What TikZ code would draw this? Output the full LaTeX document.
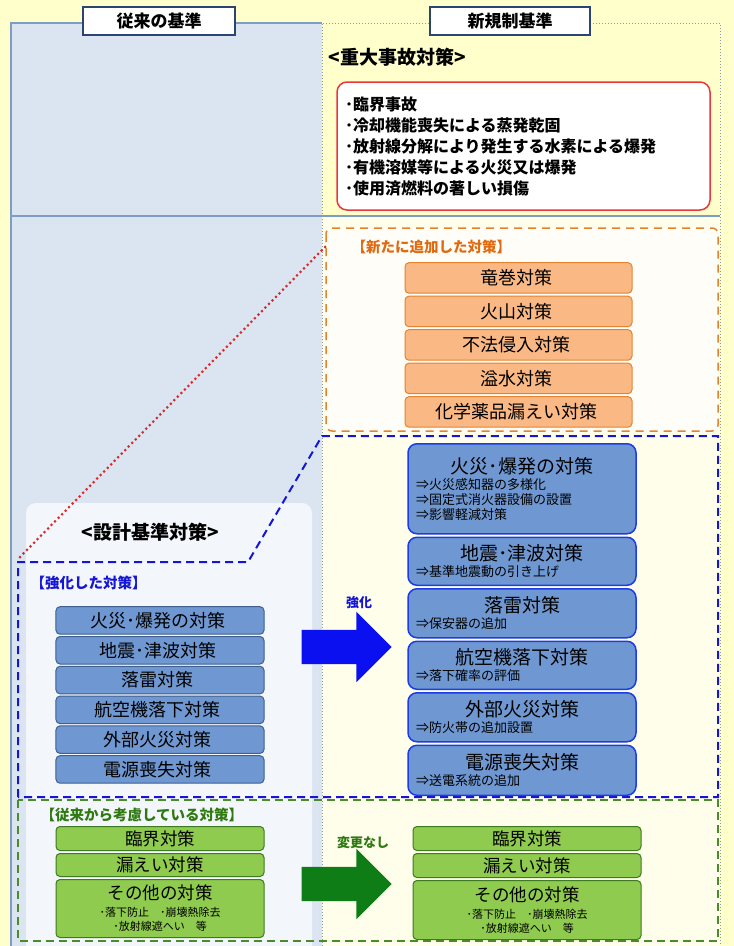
\documentclass[tikz,border=0pt]{standalone}
\usepackage{fontspec}
\setmainfont{Noto Sans CJK JP}
\usetikzlibrary{matrix,positioning,shapes.arrows}
\definecolor{pageyellow}{HTML}{FFFFCC}
\definecolor{oldpanel}{HTML}{DBE5F1}
\definecolor{oldframe}{HTML}{7F9DC3}
\definecolor{newframe}{HTML}{8C99A6}
\definecolor{lightpanel}{HTML}{F3F6FA}
\definecolor{creampanel}{HTML}{FFFEEA}
\definecolor{headline}{HTML}{2B4570}
\definecolor{saframe}{HTML}{E8383D}
\definecolor{orline}{HTML}{E3832F}
\definecolor{orfill}{HTML}{FAB884}
\definecolor{orpale}{HTML}{FFFDF7}
\definecolor{ortext}{HTML}{E06A10}
\definecolor{dashblue}{HTML}{1515D5}
\definecolor{bluefill}{HTML}{6F98D2}
\definecolor{blueedge}{HTML}{3F5F8E}
\definecolor{brightedge}{HTML}{1C3CE6}
\definecolor{arrowblue}{HTML}{0A10F0}
\definecolor{greenline}{HTML}{4B8B2E}
\definecolor{greenfill}{HTML}{8FCB4E}
\definecolor{greenedge}{HTML}{3D7A22}
\definecolor{arrowgreen}{HTML}{0E7D16}
\definecolor{greentext}{HTML}{2E7A10}
\definecolor{dotred}{HTML}{D82A2A}
\newcommand{\jpsize}[2]{\fontsize{#1}{#2}\selectfont}
\tikzset{
stdhead/.style={
  draw=headline,
  line width=1.5pt,
  fill=white,
  minimum height=28pt,
  font=\bfseries\jpsize{17}{20}
  },
grouptitle/.style={
  anchor=west,
  text=#1,
  font=\bfseries\jpsize{14.5}{17}
  },
boxstack/.style={
  matrix of nodes,
  inner sep=0pt,
  row sep=1.5pt,
  nodes={rounded corners=4pt,line width=1pt,align=center,inner sep=0pt}
  },
orangemat/.style={
  boxstack,
  row sep=2pt,
  nodes={draw=orline,fill=orfill,minimum width=227pt,minimum height=30.5pt,font=\jpsize{18}{20}}
  },
bluemat/.style={
  boxstack,
  row sep=1.3pt,
  nodes={draw=blueedge,fill=bluefill,minimum width=208pt,minimum height=27.5pt,font=\jpsize{18}{20}}
  },
newblue/.style={
  draw=brightedge,
  line width=1.5pt,
  fill=bluefill,
  rounded corners=9pt,
  minimum width=228pt,
  text width=212pt,
  align=left,
  inner xsep=8pt,
  inner ysep=2pt,
  font=\jpsize{13}{15}
  },
greenbox/.style={
  draw=greenedge,
  line width=1pt,
  fill=greenfill,
  rounded corners=4pt,
  minimum width=#1,
  align=center,
  inner sep=0pt,
  font=\jpsize{17.5}{20}
  },
bigarrow/.style={
  single arrow,
  fill=#1,
  draw=none,
  minimum height=90pt,
  minimum width=0pt,
  inner xsep=0pt,
  inner ysep=17pt,
  single arrow head extend=18pt,
  single arrow head indent=0pt
  }
}

\begin{document}
\begin{tikzpicture}[x=1pt,y=-1pt]

\useasboundingbox (0,0) rectangle (734,946);
\fill[pageyellow] (0,0) rectangle (734,946);

\fill[oldpanel] (11,23) rectangle (322,946);
\fill[lightpanel,rounded corners=10pt] (26,946) -- (26,503) -- (312,503) -- (312,946);
\fill[creampanel] (322,216) rectangle (720,946);

\draw[oldframe,line width=1.5pt] (11,946) -- (11,23) -- (322,23);
\draw[newframe,line width=1pt,dotted] (322,946) -- (322,23) -- (720,23) -- (720,946);
\draw[oldframe,line width=1.5pt] (11,216) -- (720,216);

\node[stdhead,minimum width=152pt] (oldstd) at (159,21) {従来の基準};
\node[stdhead,minimum width=160pt] (newstd) at (510,21) {新規制基準};

\node[anchor=west,font=\bfseries\jpsize{19}{22}] (satitle) at (325,57) {<重大事故対策>};
\node[draw=saframe,line width=1.5pt,fill=white,rounded corners=10pt,
  minimum width=373pt,minimum height=128pt,text width=357pt,align=left,
  inner sep=8pt,font=\bfseries\jpsize{16}{21}] (salist) at (523.5,146)
  {･臨界事故\\･冷却機能喪失による蒸発乾固\\･放射線分解により発生する水素による爆発\\･有機溶媒等による火災又は爆発\\･使用済燃料の著しい損傷};

\draw[orline,line width=1.5pt,dash pattern=on 8pt off 6pt,fill=orpale,rounded corners=6pt]
  (326,228) rectangle (718,431);
\node[grouptitle=ortext] (addtitle) at (348,247) {【新たに追加した対策】};

\matrix[orangemat,anchor=north] at (518.5,262) (addmat)
{
竜巻対策 \\
火山対策 \\
不法侵入対策 \\
溢水対策 \\
化学薬品漏えい対策 \\
};

\node[font=\bfseries\jpsize{19}{22}] (dbtitle) at (150,532) {<設計基準対策>};
\node[grouptitle=dashblue] (strtitle) at (27,583) {【強化した対策】};

\coordinate (strcorner) at (20,557);
\coordinate (addcorner) at (326,246);
\draw[dotred,line width=3pt,line cap=round,dash pattern=on 0pt off 5pt] (strcorner) -- (addcorner);

\draw[dashblue,line width=2pt,dash pattern=on 8pt off 5pt]
  (18,797) -- (18,562) -- (248,562) -- (322,436) -- (718,436) -- (718,797) -- cycle;

\matrix[bluemat,anchor=north] at (160,606) (oldmat)
{
火災･爆発の対策 \\
地震･津波対策 \\
落雷対策 \\
航空機落下対策 \\
外部火災対策 \\
電源喪失対策 \\
};

\node[newblue,minimum height=90pt,anchor=north] (nfire) at (522,443)
  {\makebox[212pt]{\jpsize{19}{22}火災･爆発の対策}\\[1pt]⇒火災感知器の多様化\\⇒固定式消火器設備の設置\\⇒影響軽減対策};
\node[newblue,minimum height=48pt,below=2pt of nfire] (nquake)
  {\makebox[212pt]{\jpsize{19}{22}地震･津波対策}\\[1pt]⇒基準地震動の引き上げ};
\node[newblue,minimum height=49pt,below=2pt of nquake] (nlight)
  {\makebox[212pt]{\jpsize{19}{22}落雷対策}\\[1pt]⇒保安器の追加};
\node[newblue,minimum height=48pt,below=2pt of nlight] (nplane)
  {\makebox[212pt]{\jpsize{19}{22}航空機落下対策}\\[1pt]⇒落下確率の評価};
\node[newblue,minimum height=49pt,below=2pt of nplane] (nxfire)
  {\makebox[212pt]{\jpsize{19}{22}外部火災対策}\\[1pt]⇒防火帯の追加設置};
\node[newblue,minimum height=50pt,below=2pt of nxfire] (npower)
  {\makebox[212pt]{\jpsize{19}{22}電源喪失対策}\\[1pt]⇒送電系統の追加};

\node[bigarrow=arrowblue] (strarrow) at (338,647) {};
\node[font=\bfseries\jpsize{13}{15},text=dashblue] (strlabel) at (359,603) {強化};

\draw[greenline,line width=1.5pt,dash pattern=on 8pt off 5pt] (18,800) rectangle (718,941);
\node[grouptitle=greentext] (keeptitle) at (37,815) {【従来から考慮している対策】};

\node[greenbox=208pt,minimum height=24pt,anchor=north] (ocrit) at (160,826) {臨界対策};
\node[greenbox=208pt,minimum height=23pt,below=2pt of ocrit] (oleak) {漏えい対策};
\node[greenbox=208pt,minimum height=58pt,below=2pt of oleak] (oother)
  {その他の対策\\[-3pt]{\jpsize{11}{12}･落下防止　･崩壊熱除去}\\[-6pt]{\jpsize{11}{12}･放射線遮へい　等}};

\node[greenbox=228pt,minimum height=24pt,anchor=north] (ncrit) at (527,826) {臨界対策};
\node[greenbox=228pt,minimum height=24pt,below=2pt of ncrit] (nleak) {漏えい対策};
\node[greenbox=228pt,minimum height=59pt,below=2pt of nleak] (nother)
  {その他の対策\\[-3pt]{\jpsize{11}{12}･落下防止　･崩壊熱除去}\\[-6pt]{\jpsize{11}{12}･放射線遮へい　等}};

\node[bigarrow=arrowgreen] (keeparrow) at (338,884) {};
\node[font=\bfseries\jpsize{13}{15},text=greentext] (keeplabel) at (363,843) {変更なし};

\end{tikzpicture}
\end{document}
